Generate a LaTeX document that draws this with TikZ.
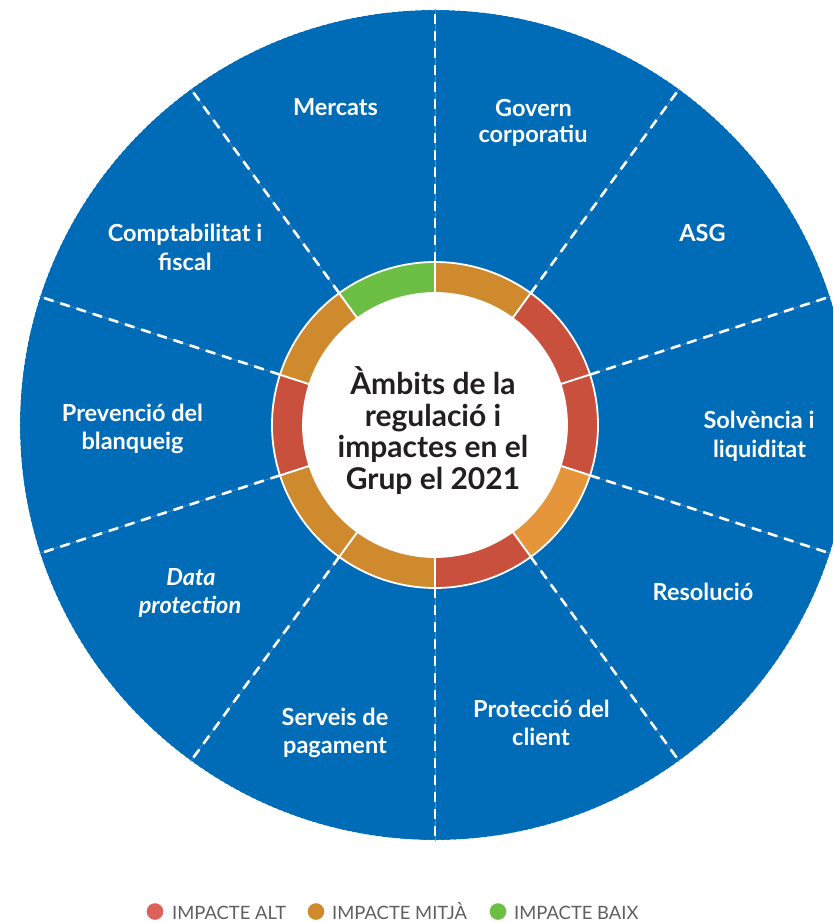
\documentclass[tikz,border=0pt]{standalone}
\usepackage{fontspec}
\setmainfont{Lato}
\definecolor{bgblue}{RGB}{0,107,182}
\definecolor{thinblue}{RGB}{80,145,205}
\definecolor{ringred}{RGB}{200,80,60}
\definecolor{ringgold}{RGB}{207,138,46}
\definecolor{ringorange}{RGB}{229,150,59}
\definecolor{ringgreen}{RGB}{108,190,69}
\definecolor{legred}{RGB}{222,96,90}
\definecolor{titlecol}{RGB}{35,31,32}
\definecolor{legtext}{RGB}{95,95,95}
\tikzset{
  lab/.style={anchor=base, text=white, inner sep=0pt, font=\fontsize{23.5}{26}\selectfont\bfseries},
  labit/.style={lab, font=\fontsize{23.5}{26}\selectfont\bfseries\itshape},
  ttl/.style={anchor=base, text=titlecol, inner sep=0pt, font=\fontsize{30}{32}\selectfont\bfseries},
  legtxt/.style={anchor=base west, text=legtext, inner sep=0pt, font=\fontsize{18.4}{20}\selectfont},
  sepdash/.style={draw=white, line width=2.6pt, dash pattern=on 10pt off 7pt},
  septhin/.style={draw=thinblue, line width=0.6pt},
}
\begin{document}
\begin{tikzpicture}[x=1pt,y=1pt]
\useasboundingbox (-435,-498) rectangle (398,425);
\clip (-435,-498) rectangle (398,425);
\coordinate (c) at (0,0);
% big blue disc
\fill[bgblue] (c) circle[radius=415];
\draw[white, line width=1pt, dash pattern=on 3pt off 3pt] (c) circle[radius=415.5];
% radial separators
\foreach \a in {90,54,18,-18,-54,-90,-126,-162,162,126}{
  \draw[septhin] (\a:163) -- (\a:416);
  \draw[sepdash] (\a:163) -- (\a:416);
}
% ring segments
\foreach \i/\col in {0/ringgold,1/ringred,2/ringred,3/ringorange,4/ringred,5/ringgold,6/ringgold,7/ringred,8/ringgold,9/ringgreen}{
  \pgfmathsetmacro{\aa}{90-36*\i}
  \pgfmathsetmacro{\ab}{90-36*(\i+1)}
  \fill[\col, draw=white, line width=1.8pt] (\aa:163) arc[start angle=\aa, end angle=\ab, radius=163] -- (\ab:132) arc[start angle=\ab, end angle=\aa, radius=132] -- cycle;
}
\fill[white] (c) circle[radius=132];
% title
\node[ttl] (t1) at (-2,30) {Àmbits de la};
\node[ttl] (t2) at (-2,-2) {regulació i};
\node[ttl] (t3) at (-2,-33) {impactes en el};
\node[ttl] (t4) at (-2,-65) {Grup el 2021};
% sector labels
\node[lab] (mercats) at (-99.5,309) {Mercats};
\node[lab] (govern1) at (98.5,308) {Govern};
\node[lab] (govern2) at (98,282) {corporatiu};
\node[lab] (asg) at (267.5,183) {ASG};
\node[lab] (solv1) at (324,-4) {Solvència i};
\node[lab] (solv2) at (324.5,-33) {liquiditat};
\node[lab] (resol) at (268,-175) {Resolució};
\node[lab] (prot1) at (106.5,-292) {Protecció del};
\node[lab] (prot2) at (106,-320) {client};
\node[lab] (serv1) at (-100,-300) {Serveis de};
\node[lab] (serv2) at (-100,-328) {pagament};
\node[labit] (data1) at (-244,-160) {Data};
\node[labit] (data2) at (-245,-188) {protection};
\node[lab] (prev1) at (-302.5,3) {Prevenció del};
\node[lab] (prev2) at (-302.5,-25) {blanqueig};
\node[lab] (comp1) at (-250,183) {Comptabilitat i};
\node[lab] (comp2) at (-250,154) {fiscal};
% legend
\fill[legred] (-280,-486.5) circle[radius=8.3];
\node[legtxt] (lalt) at (-263,-494) {IMPACTE ALT};
\fill[ringgold] (-119,-486.5) circle[radius=8.3];
\node[legtxt] (lmit) at (-103,-494) {IMPACTE MITJÀ};
\fill[ringgreen] (63,-486.5) circle[radius=8.3];
\node[legtxt] (lbaix) at (79,-494) {IMPACTE BAIX};
\end{tikzpicture}
\end{document}
